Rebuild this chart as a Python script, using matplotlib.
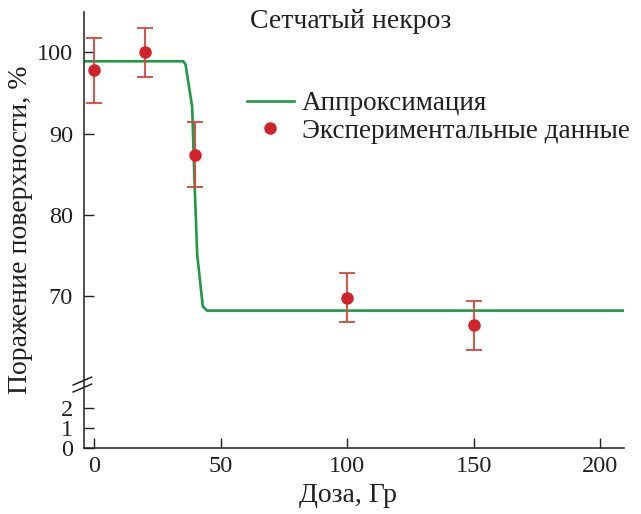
import numpy as np
import matplotlib
matplotlib.use('Agg')
import matplotlib.pyplot as plt

plt.rcParams['font.family'] = ['Liberation Serif', 'DejaVu Serif']

# experimental points (dose, %, error)
dose = [0, 20, 40, 100, 150]
damage = [97.8, 100.0, 87.4, 69.8, 66.4]
err = [4.0, 3.0, 4.0, 3.0, 3.0]

# approximation curve
fit_x = [-3.9, 35.3, 36.2, 38.8, 39.7, 40.8, 43.0, 44.7, 209.3]
fit_y = [98.9, 98.9, 98.5, 93.3, 84.3, 75.1, 68.7, 68.2, 68.2]

yticks = [0, 1, 2, 70, 80, 90, 100]
xticks = [0, 50, 100, 150, 200]

# broken y axis: 0..3 stretched, then jump to ~59
k = 2.48
low_top = 3.15
shift = 51.28
u_brk = low_top * k

def fwd(v):
    v = np.asarray(v, dtype=float)
    return np.where(v <= low_top, v * k, np.where(v >= u_brk + shift, v - shift, u_brk))

def inv(u):
    u = np.asarray(u, dtype=float)
    return np.where(u <= u_brk, u / k, u + shift)

green = '#1e9a47'
red = '#d2232a'
ink = '#231f20'

fig = plt.figure(figsize=(6.41, 5.14), dpi=100)
ax = fig.add_axes([84/641, 66/514, 540/641, 436/514])
ax.set_yscale('function', functions=(fwd, inv))
ax.set_xlim(-3.9, 209.3)
ax.set_ylim(0, 104.97)

ax.plot(fit_x, fit_y, color=green, lw=1.9, label='Аппроксимация', zorder=2)
ax.errorbar(dose, damage, yerr=err, fmt='none', ecolor='#d9443c', elinewidth=1.3,
            capsize=6, capthick=1.3, zorder=3)
ax.plot(dose, damage, 'o', color=red, ms=8, label='Экспериментальные данные', zorder=4)

ax.set_xticks(xticks)
ax.set_yticks(yticks)
ax.tick_params(direction='in', length=7, width=1, labelsize=17.5, colors=ink)
ax.tick_params(axis='y', pad=8)
ax.tick_params(axis='x', pad=6)
for s in ['top', 'right']:
    ax.spines[s].set_visible(False)
for s in ['left', 'bottom']:
    ax.spines[s].set_linewidth(1.1)
    ax.spines[s].set_color(ink)

# break marks on the y axis
yb = fwd(low_top) / fwd(104.97)
for dy in (-0.008, 0.008):
    ax.plot([-0.02, 0.014], [yb + dy - 0.009, yb + dy + 0.009], transform=ax.transAxes,
            color=ink, lw=1.1, clip_on=False)

ax.set_xlabel('Доза, Гр', fontsize=20, labelpad=4, color=ink)
ax.xaxis.label.set_x(0.489)
ax.set_ylabel('Поражение поверхности, %', fontsize=20, labelpad=3, color=ink)
ax.text(0.4935, 0.963, 'Сетчатый некроз', transform=ax.transAxes, fontsize=20,
        ha='center', va='baseline', color=ink)

ax.legend(loc='center left', bbox_to_anchor=(0.301, 0.758), frameon=False, fontsize=19.5,
          handlelength=1.75, handletextpad=0.3, borderpad=0, borderaxespad=0,
          labelspacing=0.1, numpoints=1, labelcolor=ink)

fig.savefig('out.png', dpi=100)
